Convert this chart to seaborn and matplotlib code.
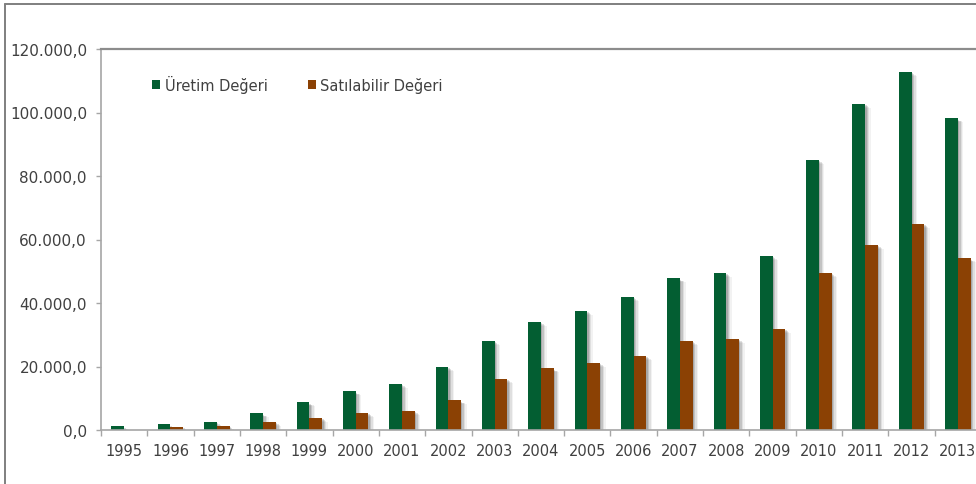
import numpy as np
import pandas as pd
import seaborn as sns
import matplotlib
matplotlib.use("Agg")
import matplotlib.pyplot as plt
import matplotlib.patheffects as pe
from matplotlib.ticker import FuncFormatter, FixedLocator
from matplotlib.lines import Line2D
from matplotlib.patches import Patch

years = [str(y) for y in range(1995, 2014)]
uretim = [1170, 1800, 2640, 5260, 8720, 12190, 14490, 19950, 28130, 34100,
          37580, 41990, 47770, 49450, 54900, 85140, 102780, 112860, 98170]
satilabilir = [100, 950, 1350, 2520, 3900, 5350, 6100, 9350, 16060, 19430,
               21100, 23400, 28030, 28660, 31810, 49450, 58370, 64980, 54080]
series_names = ["Üretim Değeri", "Satılabilir Değeri"]
colors = ["#035E32", "#8B4104"]
ytick_vals = [0, 20000, 40000, 60000, 80000, 100000, 120000]

df = pd.DataFrame({
    "Yıl": years * 2,
    "Değer": uretim + satilabilir,
    "Seri": [series_names[0]] * len(years) + [series_names[1]] * len(years),
})

sns.set_style("white")
plt.rcParams["font.family"] = ["DejaVu Sans"]
text_color = "#404040"

W, H = 976, 485
fig = plt.figure(figsize=(W / 100, H / 100), dpi=100)
ax = fig.add_axes([101 / W, (H - 431) / H, (981 - 101) / W, (431 - 50) / H])

sns.barplot(data=df, x="Yıl", y="Değer", hue="Seri", palette=colors,
            width=0.55, ax=ax, legend=False, saturation=1, errorbar=None)

shadow = [
    pe.SimplePatchShadow(offset=(1.0, -1.0), shadow_rgbFace="#000000", alpha=0.14),
    pe.SimplePatchShadow(offset=(2.0, -1.6), shadow_rgbFace="#000000", alpha=0.12),
    pe.SimplePatchShadow(offset=(3.0, -2.2), shadow_rgbFace="#000000", alpha=0.08),
    pe.SimplePatchShadow(offset=(4.0, -2.8), shadow_rgbFace="#000000", alpha=0.05),
    pe.Normal(),
]
for p in ax.patches:
    p.set_linewidth(0)
    p.set_path_effects(shadow)

ax.set_xlim(-0.5, len(years) - 0.5)
ax.set_ylim(0, 120000)
ax.set_xlabel("")
ax.set_ylabel("")

def tr_fmt(v, pos):
    s = f"{v:,.1f}"
    return s.replace(",", "X").replace(".", ",").replace("X", ".")

ax.yaxis.set_major_locator(FixedLocator(ytick_vals))
ax.yaxis.set_major_formatter(FuncFormatter(tr_fmt))

ax.set_xticks(np.arange(len(years)))
ax.set_xticklabels(years)
ax.set_xticks(np.arange(-0.5, len(years), 1.0), minor=True)
ax.tick_params(axis="x", which="major", length=0, pad=9.5, labelsize=10.5, colors=text_color)
ax.tick_params(axis="x", which="minor", length=4.3, width=1, color="#A6A6A6", direction="out", bottom=True)
ax.tick_params(axis="y", which="major", length=3.6, width=1, color="#A6A6A6", direction="out", left=True,
               pad=6.5, labelsize=11, labelcolor=text_color)

for side in ["left", "bottom"]:
    ax.spines[side].set_color("#A6A6A6")
    ax.spines[side].set_linewidth(1.2)
ax.spines["top"].set_color("#8C8C8C")
ax.spines["top"].set_linewidth(1.6)
ax.spines["right"].set_visible(False)

handles = [Patch(facecolor=c, edgecolor="none") for c in colors]
leg = fig.legend(handles, series_names, loc="center left",
                 bbox_to_anchor=(139 / W, 1 - 85 / H), bbox_transform=fig.transFigure,
                 ncol=2, frameon=False, fontsize=10.5, handlelength=0.55, handleheight=0.55,
                 handletextpad=0.3, columnspacing=2.75, labelcolor=text_color)

frame_color = "#7F7F7F"
fig.add_artist(Line2D([5 / W, 5 / W], [0, 1 - 5 / H], transform=fig.transFigure,
                      color=frame_color, linewidth=1.4))
fig.add_artist(Line2D([5 / W, 1], [1 - 5 / H, 1 - 5 / H], transform=fig.transFigure,
                      color=frame_color, linewidth=1.4))

fig.savefig("out.png", dpi=100)
